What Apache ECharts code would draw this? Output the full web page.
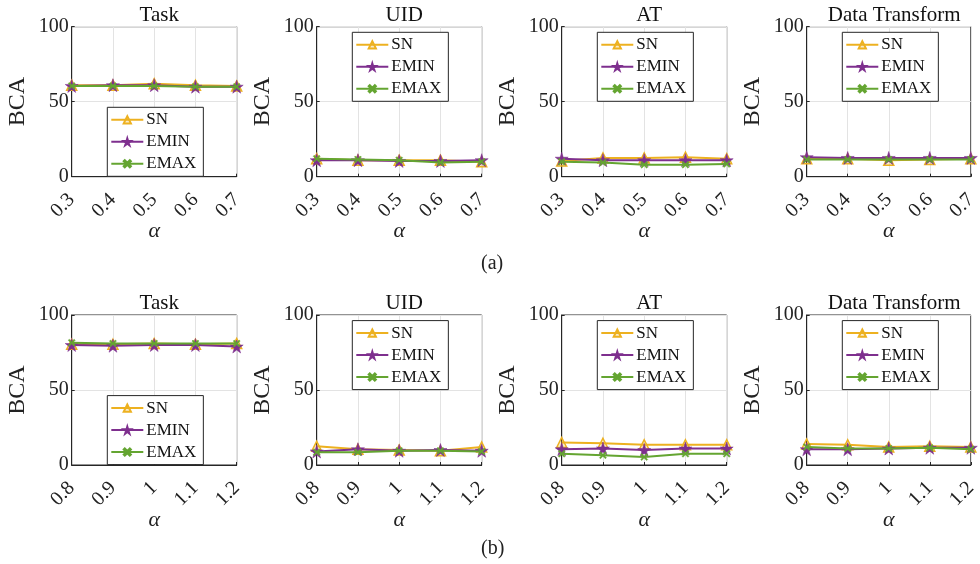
<!DOCTYPE html>
<html>
	<head>
		<meta charset="utf-8">
		<title>BCA vs alpha</title>
		<script src="https://cdn.jsdelivr.net/npm/echarts@6/dist/echarts.min.js"></script>
	</head>
	<body style="margin:0;background:#fff;">
		<div id="main" style="width: 980px;height:564px;"></div>
		<script type="text/javascript">
			// 数据
			var alphaA = ['0.3', '0.4', '0.5', '0.6', '0.7'];
			var alphaB = ['0.8', '0.9', '1', '1.1', '1.2'];
			var panelTitles = ['Task', 'UID', 'AT', 'Data Transform'];
			var seriesNames = ['SN', 'EMIN', 'EMAX'];
			var yTicks = [0, 50, 100];

			// (a) rows: SN, EMIN, EMAX
			var taskA = [[61, 61, 62, 61, 60.5], [60.5, 61, 61, 60, 60], [60.5, 60.5, 60.5, 60, 60]];
			var uidA = [[12, 11, 11, 11, 10], [11, 11, 10.5, 10.5, 11], [12, 11.5, 11, 9.5, 10]];
			var atA = [[10.5, 12.5, 12.5, 13, 12], [12, 11, 11, 11, 11], [10, 9.5, 8, 8, 8.5]];
			var dtA = [[12, 12, 11, 11.5, 12], [13, 12.5, 12.5, 12.5, 12.5], [11.5, 11.5, 11.5, 11.5, 11.5]];
			// (b)
			var taskB = [[80.5, 80.5, 81, 80.5, 81], [80, 79.5, 80, 80, 79], [81.5, 81, 81, 81, 81]];
			var uidB = [[12.5, 10.5, 10, 9.5, 12], [9, 10.5, 9.5, 10, 9.5], [8.5, 8.5, 9.5, 9.5, 9]];
			var atB = [[15, 14.5, 13.5, 13.5, 13.5], [10.5, 11, 10, 11, 11], [7.5, 6.5, 5.3, 7.5, 7.5]];
			var dtB = [[14, 13.5, 12, 12.5, 12], [10.5, 10.5, 11, 11.5, 11.5], [12, 11, 11, 11.5, 10.5]];

			var rows = [
				{cats: alphaA, data: [taskA, uidA, atA, dtA]},
				{cats: alphaB, data: [taskB, uidB, atB, dtB]}
			];

			var colors = ['#EDB120', '#7E2F8E', '#64A531'];
			var starPath = 'path://M50,0 L61,35 L98,35 L68,57 L79,91 L50,70 L21,91 L32,57 L2,35 L39,35 Z';
			var xPath = 'path://M0,3 L3,0 L10,7 L17,0 L20,3 L13,10 L20,17 L17,20 L10,13 L3,20 L0,17 L7,10 Z';
			var symbols = ['triangle', starPath, xPath];
			var symbolSizes = [10, 13, 7];
			var fills = ['rgba(237,177,32,0.25)', '#7E2F8E', '#64A531'];

			var font = '"Liberation Serif", "DejaVu Serif", serif';
			var gridLefts = [71.7, 316.7, 561.7, 806.7];
			var gridTops = [26.7, 315];
			var gridW = 165, gridH = 150;

			var option = {
				animation: false,
				title: [], grid: [], xAxis: [], yAxis: [], series: [], legend: [],
				graphic: [
					{type: 'text', left: 481, top: 254, style: {text: '(a)', font: '20px ' + font, fill: '#222'}},
					{type: 'text', left: 481, top: 539, style: {text: '(b)', font: '20px ' + font, fill: '#222'}}
				]
			};

			var idx = 0;
			rows.forEach(function (row, r) {
				row.data.forEach(function (panel, c) {
					var left = gridLefts[c], top = gridTops[r];
					option.title.push({
						text: panelTitles[c],
						left: left + gridW / 2, top: top - 27, textAlign: 'center',
						textStyle: {fontFamily: font, fontSize: 21, fontWeight: 'normal', color: '#111'}
					});
					option.grid.push({
						left: left, top: top, width: gridW, height: gridH,
						show: true, borderColor: '#262626', borderWidth: 1, containLabel: false
					});
					option.xAxis.push({
						gridIndex: idx, type: 'category', data: row.cats, boundaryGap: false,
						name: 'α', nameLocation: 'middle', nameGap: 44, nameMoveOverlap: false,
						nameTextStyle: {fontFamily: font, fontSize: 22, fontStyle: 'italic', color: '#222'},
						axisLine: {lineStyle: {color: '#262626'}},
						axisTick: {inside: true, length: 3, alignWithLabel: true, lineStyle: {color: '#262626'}},
						axisLabel: {rotate: 45, margin: 20, fontFamily: font, fontSize: 20, color: '#222'},
						splitLine: {show: true, lineStyle: {color: '#e3e3e3'}}
					});
					option.yAxis.push({
						gridIndex: idx, type: 'value', min: 0, max: 100, interval: 50,
						name: 'BCA', nameLocation: 'middle', nameGap: 42, nameMoveOverlap: false,
						nameTextStyle: {fontFamily: font, fontSize: 24, color: '#222'},
						axisLine: {show: true, lineStyle: {color: '#262626'}},
						axisTick: {show: true, inside: true, length: 3, lineStyle: {color: '#262626'}},
						axisLabel: {margin: 3, fontFamily: font, fontSize: 20, color: '#222'},
						splitLine: {show: true, lineStyle: {color: '#e3e3e3'}}
					});
					panel.forEach(function (vals, s) {
						option.series.push({
							type: 'line', name: seriesNames[s],
							xAxisIndex: idx, yAxisIndex: idx,
							data: vals,
							symbol: symbols[s], symbolSize: symbolSizes[s],
							lineStyle: {color: colors[s], width: 2},
							itemStyle: {color: fills[s], borderColor: colors[s], borderWidth: s === 0 ? 1.5 : 0.5},
							z: 3 + s
						});
					});
					// legend placement
					var lg;
					if (c === 0) {
						lg = {left: left + 35.6, top: top + 80.6};
					} else {
						lg = {left: left + 35.6, top: top + 5.6};
					}
					option.legend.push({
						left: lg.left, top: lg.top, orient: 'vertical',
						data: seriesNames,
						backgroundColor: '#fff', borderColor: '#262626', borderWidth: 1,
						padding: [4, 7, 4, 3], itemGap: 5,
						itemWidth: 32, itemHeight: 9,
						selectedMode: false,
						textStyle: {fontFamily: font, fontSize: 17, color: '#111', padding: [0, 0, 0, -2]}
					});
					idx++;
				});
			});

			var myChart = echarts.init(document.getElementById('main'));
			myChart.setOption(option);
		</script>
	</body>
</html>
